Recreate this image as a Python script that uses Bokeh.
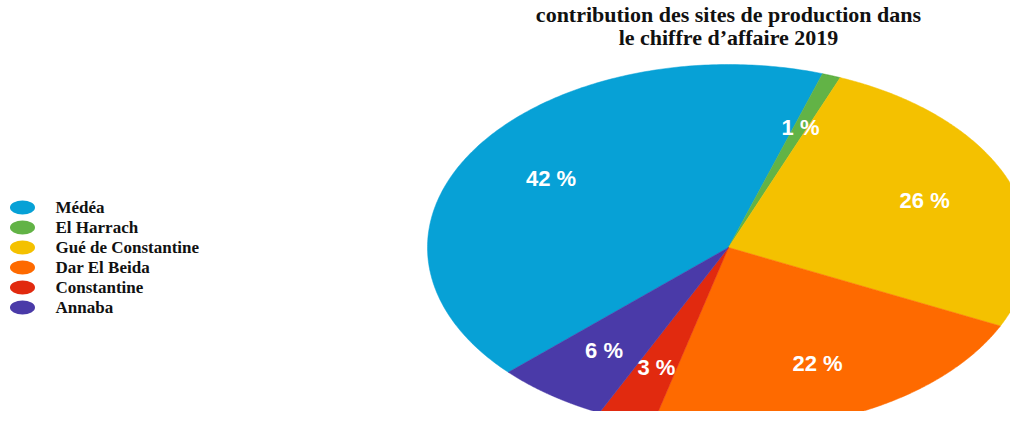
import numpy as np
from bokeh.plotting import figure
from bokeh.models import ColumnDataSource, Range1d
from bokeh.core.properties import value
from bokeh.embed import file_html
from bokeh.resources import INLINE

# ---- data ----
sites = ["Médéa", "El Harrach", "Gué de Constantine", "Dar El Beida", "Constantine", "Annaba"]
shares = [42, 1, 26, 22, 3, 6]
colors = ["#07a1d6", "#62b346", "#f4c100", "#fe6a00", "#e12a0f", "#4a3aa8"]
title_lines = ["contribution des sites de production dans", "le chiffre d\u2019affaire 2019"]

# ---- layout (pixel-like data units) ----
W, H = 1010, 411
cx, cy = 720, 172          # pie centre
rx, ry = 301, 183          # elliptical radii (stretched pie)
start_deg = 227.0          # clockwise from 12 o'clock

p = figure(width=W, height=H, output_backend="svg", toolbar_location=None,
           x_range=Range1d(-8, W - 8), y_range=Range1d(8, H + 8), min_border=0,
           background_fill_color="white", border_fill_color="white")
p.axis.visible = False
p.grid.visible = False
p.outline_line_color = None

vals = np.array(shares, dtype=float)
frac = vals / vals.sum()
ends = start_deg + np.cumsum(frac) * 360.0
starts = ends - frac * 360.0

xs, ys, lx, ly = [], [], [], []
for s, e in zip(starts, ends):
    th = np.radians(np.linspace(s, e, 200))
    xs.append(np.concatenate([[cx], cx + rx * np.sin(th), [cx]]))
    ys.append(np.concatenate([[cy], cy + ry * np.cos(th), [cy]]))
    m = np.radians((s + e) / 2)
    lx.append(cx + 0.70 * rx * np.sin(m))
    ly.append(cy + 0.70 * ry * np.cos(m))

src = ColumnDataSource(dict(xs=xs, ys=ys, color=colors, site=sites))
p.patches("xs", "ys", fill_color="color", line_color="color", line_width=0.5, source=src)

lab = ColumnDataSource(dict(x=lx, y=ly, t=[f"{v} %" for v in shares]))
p.text("x", "y", text="t", source=lab, text_color="white",
       text_font=value("Liberation Sans"), text_font_style="bold",
       text_font_size="22px", text_align="center", text_baseline="middle")

# legend (manual)
n = len(sites)
leg_y = 212 - 20 * np.arange(n)
leg = ColumnDataSource(dict(x=[14] * n, tx=[47] * n, y=leg_y, color=colors, site=sites))
p.ellipse("x", "y", width=25, height=14, fill_color="color", line_color=None, source=leg)
p.text("tx", "y", text="site", source=leg, text_color="#111111",
       text_font=value("Liberation Serif"), text_font_style="bold",
       text_font_size="17px", text_baseline="middle", text_align="left")

# title
tsrc = ColumnDataSource(dict(x=[cx, cx], y=[405, 382], t=title_lines))
p.text("x", "y", text="t", source=tsrc, text_color="#111111",
       text_font=value("Liberation Serif"), text_font_style="bold",
       text_font_size="22px", text_align="center", text_baseline="middle")

open("out.html", "w").write(file_html(p, INLINE))
